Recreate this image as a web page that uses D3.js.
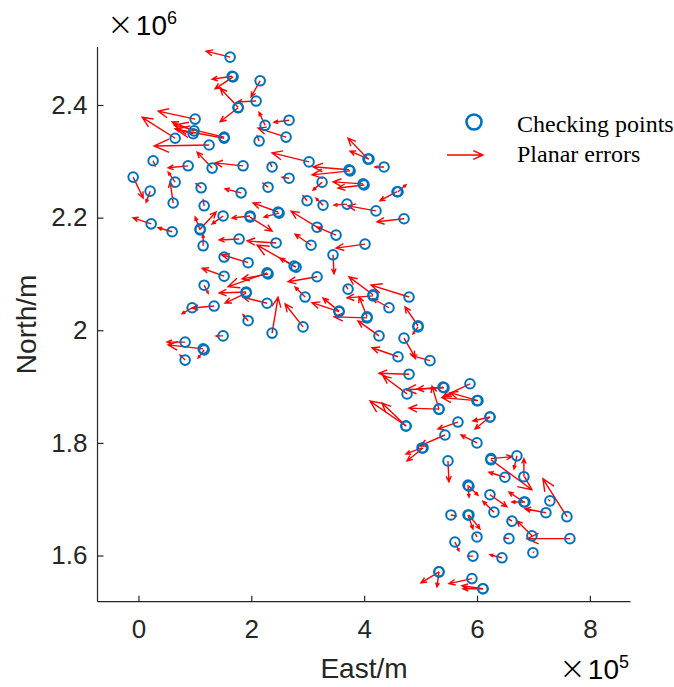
<!DOCTYPE html>
<html>
<head>
	<meta charset="utf-8">
	<script src="https://d3js.org/d3.v7.min.js"></script>
	<title>Checking points and planar errors</title>
	<style>
		body { margin: 0; background: #fff; }
	</style>
</head>
<body>
	<div id="chart"></div>

	<script type="text/javascript">

		// checking point positions (East in 1e5 m, North in 1e6 m)
		var east = [
			1.624, 1.660, 1.677, 2.156, 2.085, 1.766, 1.766, 1.004, 0.986, 0.969,
			0.650, 1.252, 1.518, 1.518, 2.244, 2.669, 2.616, 2.138, 0.260, 0.880,
			1.305, 1.854, 2.368, 2.669, 3.023, 3.732, 3.750, 4.068, 4.086, 4.352,
			3.254, 3.980, 3.998, 4.582, 4.600, -0.094, 0.207, 0.650, 0.615, 1.111,
			1.819, 2.297, 1.164, 0.225, 0.597, 1.093, 1.093, 1.500, 1.978, 1.978,
			2.474, 2.492, 1.146, 1.784, 2.439, 2.758, 1.518, 1.943, 1.518, 2.279,
			2.297, 1.164, 1.908, 1.908, 2.279, 1.341, 0.951, 2.368, 1.943, 1.500,
			0.827, 1.146, 1.164, 0.827, 2.988, 3.271, 3.696, 4.210, 4.706, 3.165,
			3.502, 3.059, 4.015, 3.448, 2.793, 3.165, 3.714, 4.157, 4.157, 4.795,
			2.953, 4.440, 3.555, 3.555, 4.051, 4.051, 4.954, 4.954, 2.917, 4.263,
			4.706, 4.600, 5.166, 4.795, 4.759, 5.397, 5.415, 5.875, 5.999, 6.017,
			5.326, 5.326, 4.741, 4.741, 6.229, 6.229, 5.662, 5.432, 5.999, 5.025,
			5.043, 5.485, 6.247, 6.247, 6.707, 6.831, 6.495, 5.840, 5.857, 6.229,
			6.831, 6.849, 7.292, 7.593, 7.221, 6.300, 5.538, 5.840, 5.857, 6.619,
			6.973, 7.646, 5.999, 5.609, 6.566, 6.991, 5.928, 6.442, 5.326, 5.326,
			5.910, 6.105, 6.105
		];
		var north = [
			2.485, 2.451, 2.450, 2.443, 2.407, 2.396, 2.395, 2.375, 2.354, 2.349,
			2.341, 2.329, 2.343, 2.341, 2.364, 2.373, 2.343, 2.336, 2.301, 2.292,
			2.288, 2.292, 2.290, 2.270, 2.299, 2.285, 2.283, 2.304, 2.304, 2.290,
			2.263, 2.260, 2.258, 2.246, 2.246, 2.272, 2.247, 2.263, 2.226, 2.253,
			2.244, 2.254, 2.221, 2.189, 2.175, 2.180, 2.178, 2.203, 2.203, 2.201,
			2.210, 2.208, 2.150, 2.162, 2.155, 2.114, 2.130, 2.120, 2.096, 2.102,
			2.100, 2.080, 2.068, 2.066, 2.048, 2.043, 2.040, 1.995, 2.017, 1.990,
			1.979, 1.967, 1.965, 1.947, 2.230, 2.222, 2.224, 2.212, 2.198, 2.183,
			2.169, 2.151, 2.153, 2.134, 2.112, 2.095, 2.073, 2.063, 2.061, 2.059,
			2.059, 2.040, 2.034, 2.033, 2.024, 2.022, 2.008, 2.006, 2.006, 1.990,
			1.986, 1.953, 1.946, 1.922, 1.887, 1.899, 1.898, 1.905, 1.875, 1.875,
			1.860, 1.860, 1.830, 1.830, 1.846, 1.846, 1.837, 1.814, 1.800, 1.791,
			1.791, 1.768, 1.772, 1.770, 1.777, 1.740, 1.739, 1.725, 1.723, 1.708,
			1.695, 1.695, 1.697, 1.669, 1.676, 1.677, 1.672, 1.672, 1.672, 1.661,
			1.635, 1.630, 1.633, 1.624, 1.630, 1.605, 1.599, 1.596, 1.571, 1.571,
			1.559, 1.541, 1.541
		];

		// planar errors (m), east and north components
		var errE = [
			-4.8, -4.0, -3.6, -1.8, -3.8, -3.6, -3.6, -7.4, -4.4, -3.6,
			-6.6, -11.0, -10.0, -9.6, -1.2, -3.0, -5.6, -0.4, 0.4, -4.0,
			-3.0, -5.6, -0.4, -1.4, -7.4, -7.2, -7.6, -4.0, -3.8, -1.8,
			-1.8, -6.0, -5.2, -3.4, 1.6, 2.0, -0.8, -1.4, -0.6, -1.0,
			-3.2, -1.0, -0.2, -3.6, -2.8, 3.2, -1.0, -2.2, -3.6, 4.4,
			-5.0, -3.0, 0.0, -4.0, -5.8, -7.4, -0.6, -5.2, -4.4, -7.8,
			-5.2, 0.8, -5.4, -4.2, -4.8, -4.4, -2.0, 1.2, -1.0, -1.4,
			-3.6, -7.0, -1.2, -1.0, -0.8, -1.4, -2.6, -5.6, -5.4, -5.2,
			-3.8, -3.2, -5.8, 0.2, -3.2, -5.8, -0.4, -4.8, -5.2, -7.6,
			-2.0, -3.2, -3.2, -5.4, -1.6, -6.6, -2.6, -1.0, -3.6, -4.2,
			2.2, -5.2, -3.6, -6.0, -4.8, -5.2, -7.6, -5.4, -7.0, -5.6,
			-6.0, -1.4, -7.2, -4.8, -3.4, -3.0, -4.0, -5.0, -3.2, -3.2,
			-3.2, 0.2, 4.2, 8.2, -0.6, 0.0, -3.2, 0.2, 1.8, 3.4,
			-3.0, -2.6, -0.2, -4.8, -4.2, -2.2, 1.0, 1.0, 2.2, -0.6,
			-3.0, -8.6, -0.2, 0.8, -0.8, 0.1, -1.0, -2.4, -3.6, -0.4,
			-4.6, -4.0, -4.2
		];
		var errN = [
			1.2, -0.6, -2.4, -3.2, -0.2, 3.8, -2.8, 1.6, 1.8, 1.0,
			4.2, -0.2, 2.4, 1.8, 2.6, -0.4, 1.8, 1.0, -1.0, -0.4,
			3.2, 0.6, 0.8, 0.2, 1.8, 0.6, -0.8, 4.2, 1.6, 0.0,
			-1.6, 0.4, -0.6, -1.8, 1.4, -4.2, -2.2, 2.0, 4.2, 0.8,
			0.8, 0.8, 1.2, 1.2, 0.8, 3.4, 2.6, -1.6, -0.4, -2.8,
			1.8, -0.8, 2.2, -0.2, 0.4, 4.2, 0.6, 1.6, 1.6, -2.8,
			-1.0, -1.6, -0.2, -2.0, 1.2, -0.4, -1.2, 7.2, 1.2, 0.0,
			0.0, 0.8, -1.6, 1.0, 1.0, 1.4, -0.2, 1.0, -0.6, 3.2,
			1.6, 2.2, -0.8, -3.8, 1.8, -1.0, 0.6, 3.6, -0.4, 2.4,
			2.0, 1.8, 2.6, 1.8, 4.0, 0.2, 3.8, -1.4, 4.6, 3.0,
			-3.8, 1.8, 1.0, 0.2, 3.6, -0.4, -0.4, -2.6, 0.6, 1.6,
			0.2, 4.6, 5.0, 4.6, -0.8, -2.4, -1.4, -2.2, 1.6, -1.2,
			-2.6, -4.2, 0.4, -6.0, -2.6, 3.6, 1.0, -2.4, -1.8, -2.4,
			2.0, 0.0, 0.2, 7.6, 0.8, 2.2, -0.2, -2.8, -2.8, 0.4,
			3.0, 0.0, 0.4, -1.8, 0.2, 0.1, 0.0, 0.6, -2.2, -3.0,
			-1.0, 0.0, 0.6
		];

		var xTicks = [0, 2, 4, 6, 8];
		var yTicks = [1.6, 1.8, 2.0, 2.2, 2.4];
		var legendLabels = ["Checking points", "Planar errors"];

		// quiver display scale: map meters drawn per meter of error
		var arrowScale = 8855;

		var width = 674, height = 687;
		var plotLeft = 97.5, plotRight = 630.5, plotTop = 47, plotBottom = 601.7;
		var blue = "#0072BD", red = "#FF0000", axisColor = "#262626";
		var sans = "'Liberation Sans', Arial, sans-serif";
		var serif = "'Liberation Serif', 'Times New Roman', serif";

		var xScale = d3.scaleLinear().domain([-0.726, 8.72]).range([plotLeft, plotRight]);
		var yScale = d3.scaleLinear().domain([1.518, 2.503]).range([plotBottom, plotTop]);

		var svg = d3.select("#chart").append("svg")
			.attr("width", width)
			.attr("height", height)
			.style("display", "block");

		var data = east.map(function(e, i){
			return {
				x: e,
				y: north[i],
				x2: e + errE[i] * arrowScale / 1e5,
				y2: north[i] + errN[i] * arrowScale / 1e6
			};
		});

		// arrow head like matlab quiver
		function arrowPath(x1, y1, x2, y2){
			var u = x2 - x1, v = y2 - y1;
			var alpha = 0.27, beta = 0.45;
			var hx1 = x2 - alpha * (u + beta * v), hy1 = y2 - alpha * (v - beta * u);
			var hx2 = x2 - alpha * (u - beta * v), hy2 = y2 - alpha * (v + beta * u);
			return "M" + x1 + "," + y1 + "L" + x2 + "," + y2 +
				"M" + hx1 + "," + hy1 + "L" + x2 + "," + y2 + "L" + hx2 + "," + hy2;
		}

		// axes
		var xAxis = d3.axisBottom(xScale).tickValues(xTicks).tickSize(-6).tickPadding(12)
			.tickFormat(d3.format("d"));
		var yAxis = d3.axisLeft(yScale).tickValues(yTicks).tickSize(-6).tickPadding(10)
			.tickFormat(function(d){ return d === 2 ? "2" : d.toFixed(1); });

		var gx = svg.append("g")
			.attr("transform", "translate(0," + plotBottom + ")")
			.call(xAxis);
		gx.select(".domain").attr("d", "M" + plotLeft + ",0H" + plotRight);

		var gy = svg.append("g")
			.attr("transform", "translate(" + plotLeft + ",0)")
			.call(yAxis);
		gy.select(".domain").attr("d", "M0," + plotTop + "V" + plotBottom);

		svg.selectAll(".domain").attr("stroke", axisColor).attr("stroke-width", 1.2);
		svg.selectAll(".tick line").attr("stroke", axisColor).attr("stroke-width", 1.2);
		svg.selectAll(".tick text")
			.attr("fill", axisColor)
			.style("font-family", sans)
			.style("font-size", "26px");
		gx.selectAll(".tick text").attr("dy", "0.95em");

		// arrows
		svg.append("g").selectAll("path")
			.data(data).enter().append("path")
			.attr("d", function(d){
				return arrowPath(xScale(d.x), yScale(d.y), xScale(d.x2), yScale(d.y2));
			})
			.attr("fill", "none")
			.attr("stroke", red)
			.attr("stroke-width", 1.4);

		// checking points
		svg.append("g").selectAll("circle")
			.data(data).enter().append("circle")
			.attr("cx", function(d){ return xScale(d.x); })
			.attr("cy", function(d){ return yScale(d.y); })
			.attr("r", 4.8)
			.attr("fill", "none")
			.attr("stroke", blue)
			.attr("stroke-width", 2);

		// axis labels
		svg.append("text")
			.attr("x", (plotLeft + plotRight) / 2)
			.attr("y", 678)
			.attr("text-anchor", "middle")
			.attr("fill", axisColor)
			.style("font-family", sans)
			.style("font-size", "28px")
			.text("East/m");

		svg.append("text")
			.attr("transform", "translate(36," + ((plotTop + plotBottom) / 2) + ") rotate(-90)")
			.attr("text-anchor", "middle")
			.attr("fill", axisColor)
			.style("font-family", sans)
			.style("font-size", "28px")
			.text("North/m");

		// exponent labels
		function exponent(x, y, p){
			var t = svg.append("text")
				.attr("x", x)
				.attr("y", y)
				.attr("fill", "#000")
				.style("font-family", sans)
				.style("font-size", "28px");
			t.append("tspan")
				.style("font-family", "'DejaVu Sans', sans-serif")
				.style("font-weight", "200")
				.style("font-size", "32px")
				.text("\u00d7");
			t.append("tspan").attr("dx", 2).text("10");
			t.append("tspan").attr("dy", -11).style("font-size", "18px").text(p);
		}
		exponent(107, 35, "6");
		exponent(559, 679, "5");

		// legend
		var legend = svg.append("g");
		legend.append("circle")
			.attr("cx", 474).attr("cy", 122).attr("r", 7.5)
			.attr("fill", "none").attr("stroke", blue).attr("stroke-width", 2.6);
		legend.append("path")
			.attr("d", arrowPath(447, 155, 483, 155))
			.attr("fill", "none").attr("stroke", red).attr("stroke-width", 1.4);
		legend.selectAll("text")
			.data(legendLabels).enter().append("text")
			.attr("x", 517)
			.attr("y", function(d, i){ return 132 + i * 30; })
			.attr("fill", "#000")
			.style("font-family", serif)
			.style("font-size", "24px")
			.text(function(d){ return d; });

	</script>
</body>
</html>
